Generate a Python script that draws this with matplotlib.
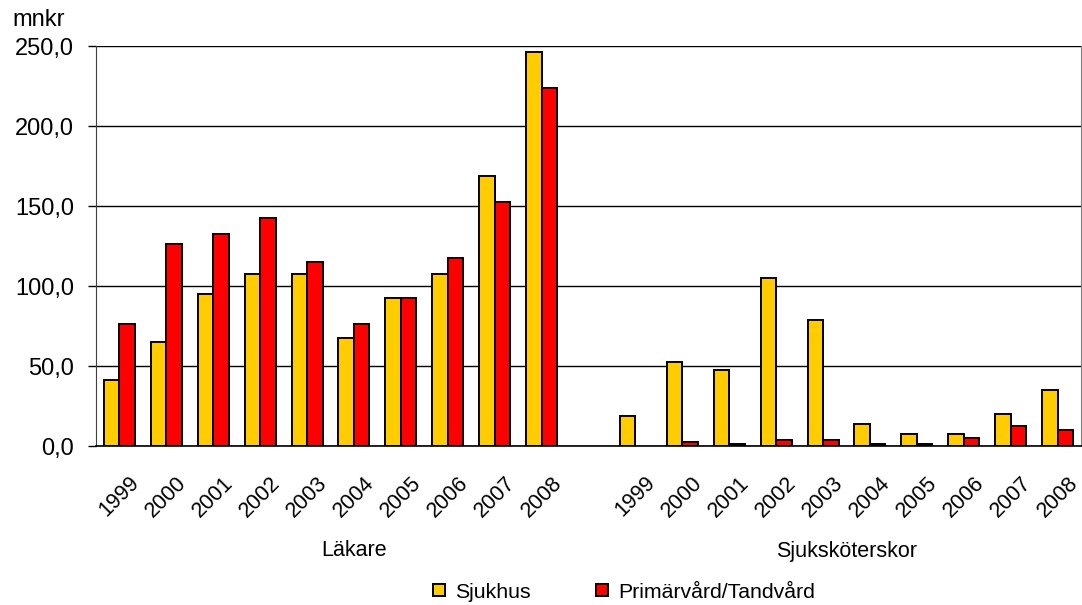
import matplotlib
matplotlib.use("Agg")
import matplotlib.pyplot as plt
import numpy as np

plt.rcParams["font.family"] = ["Liberation Sans", "DejaVu Sans"]

years = ["1999", "2000", "2001", "2002", "2003", "2004", "2005", "2006", "2007", "2008"]
groups = ["Läkare", "Sjuksköterskor"]
series = ["Sjukhus", "Primärvård/Tandvård"]

lakare_sjukhus = [41.3, 65.0, 95.0, 107.5, 107.5, 67.5, 92.5, 107.5, 168.8, 246.3]
lakare_primar = [76.3, 126.3, 132.5, 142.5, 115.0, 76.3, 92.5, 117.5, 152.5, 223.8]
ssk_sjukhus = [18.8, 52.5, 47.5, 105.0, 78.8, 13.8, 7.5, 7.5, 20.0, 35.0]
ssk_primar = [np.nan, 2.5, 1.2, 3.8, 3.8, 1.2, 1.2, 5.0, 12.5, 10.0]

yticks = [0, 50, 100, 150, 200, 250]

YELLOW = "#FFCC00"
RED = "#FF0000"
FS_Y = 17
FS_X = 15.5

fig = plt.figure(figsize=(10.82, 6.05), dpi=100)
ax = fig.add_axes([96 / 1082, 159 / 605, 985 / 1082, 400 / 605])

# left group on slots 0..9, empty slot 10, right group on slots 11..20
pos_l = np.arange(10)
pos_r = np.arange(10) + 11
w = 0.33
kw = dict(width=w, align="edge", edgecolor="black", linewidth=1.4, zorder=3)
ax.bar(pos_l - w, lakare_sjukhus, color=YELLOW, label=series[0], **kw)
ax.bar(pos_l, lakare_primar, color=RED, label=series[1], **kw)
ax.bar(pos_r - w, ssk_sjukhus, color=YELLOW, **kw)
ax.bar(pos_r, ssk_primar, color=RED, **kw)

ax.set_xlim(-0.5, 20.5)
ax.set_ylim(0, 250)
ax.set_yticks(yticks)
ax.set_yticklabels([f"{v:.1f}".replace(".", ",") for v in yticks], fontsize=FS_Y)
ax.yaxis.grid(True, color="black", linewidth=1.0, zorder=0)
ax.tick_params(axis="y", length=5.8, width=1.0, pad=10)

ax.set_xticks(np.concatenate([pos_l, pos_r]))
ax.set_xticklabels(years + years, rotation=45, ha="center", va="top", fontsize=FS_X)
ax.tick_params(axis="x", length=0, pad=19)

ax.spines["top"].set_visible(False)
ax.spines["left"].set_color("#404040")
ax.spines["right"].set_color("#808080")
ax.spines["bottom"].set_linewidth(1.2)

tr = ax.get_xaxis_transform()
ax.text(5.0, -0.2625, groups[0], transform=tr, ha="center", va="center", fontsize=FS_X)
ax.text(15.5, -0.2625, groups[1], transform=tr, ha="center", va="center", fontsize=FS_X)

fig.text(12 / 1082, 1 - 20 / 605, "mnkr", ha="left", va="center", fontsize=FS_Y)

fig.legend(loc="center", bbox_to_anchor=(624 / 1082, 1 - 592 / 605), ncol=2,
           frameon=False, fontsize=15.3, handlelength=0.55, handleheight=0.55,
           handletextpad=0.47, columnspacing=3.1, borderpad=0.2)

fig.savefig("out.png", dpi=100)
